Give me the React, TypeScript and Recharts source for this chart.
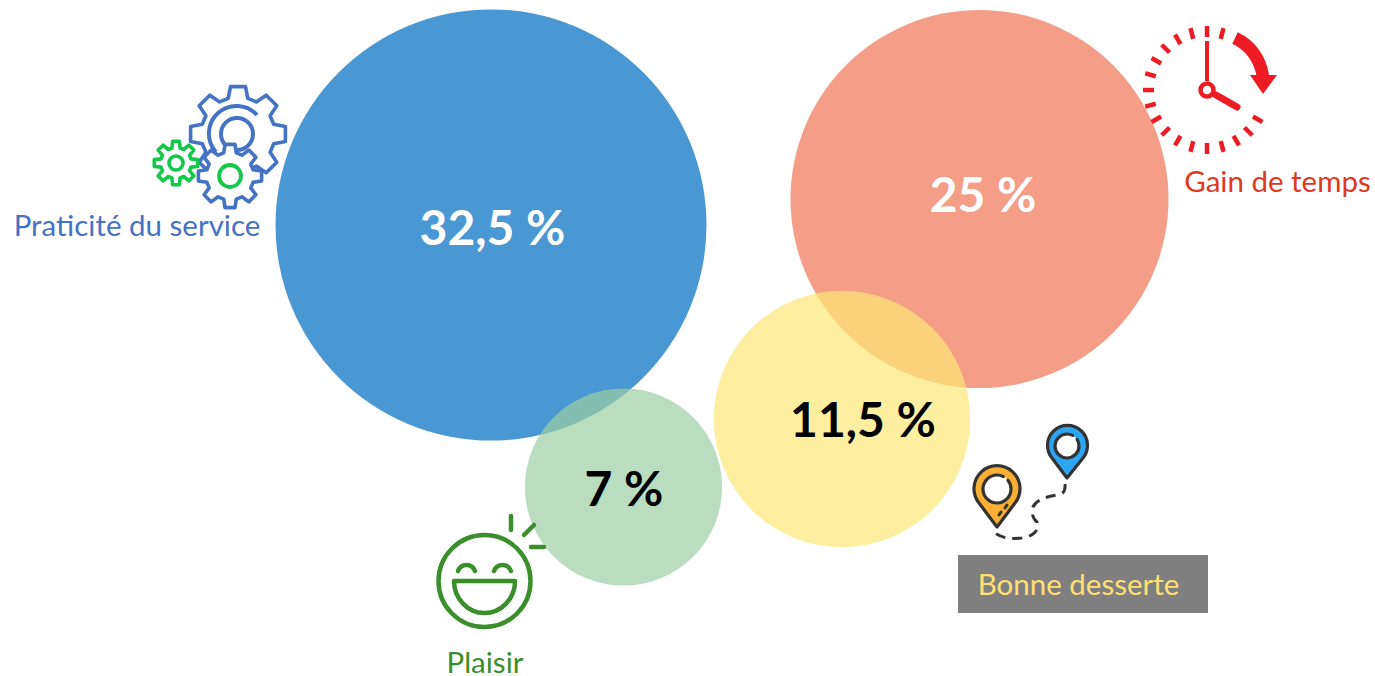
import { ScatterChart, Scatter, XAxis, YAxis, ZAxis, Cell, ReferenceArea } from "recharts";

// bubble values, drawn in this order so the overlaps come out right
const bubbleNames = ["Praticité du service", "Plaisir", "Gain de temps", "Bonne desserte"];
const bubbleShare = [32.5, 6.8, 25, 11.5];
const bubbleX = [491, 623.5, 979.5, 842];
const bubbleY = [225, 487, 199, 419];
const bubbleColors = ["#4A98D3", "#9BCEA2", "#F59E87", "#FDE777"];
const bubbleOpacity = [1, 0.7, 1, 0.7];

const percentLabels = ["32,5 %", "7 %", "25 %", "11,5 %"];
const percentX = [492.5, 624, 983, 863];
const percentY = [226.5, 487, 193, 418.5];
const percentColors = ["#FFFFFF", "#000000", "#FFFFFF", "#000000"];

const captionLabels = ["Praticité du service", "Plaisir", "Gain de temps", "Bonne desserte"];
const captionX = [137, 485, 1277.5, 1078.5];
const captionY = [224.5, 661.5, 180.5, 583.5];
const captionColors = ["#4472C4", "#3A8F2A", "#E0381E", "#FFE074"];

const bubbles = bubbleNames.map((name, i) => ({ name, x: bubbleX[i], y: bubbleY[i], z: bubbleShare[i] }));
const percents = percentLabels.map((label, i) => ({ label, x: percentX[i], y: percentY[i], color: percentColors[i] }));
const captions = captionLabels.map((label, i) => ({ label, x: captionX[i], y: captionY[i], color: captionColors[i] }));

const W = 1375;
const H = 676;
const FONT = "Lato, sans-serif";

function gearPath(cx: number, cy: number, outer: number, inner: number, teeth: number) {
  const step = (Math.PI * 2) / teeth;
  const pts: string[] = [];
  for (let i = 0; i < teeth; i++) {
    const a = i * step - Math.PI / 2;
    const offs: [number, number][] = [
      [-0.34, inner],
      [-0.2, outer],
      [0.2, outer],
      [0.34, inner],
    ];
    offs.forEach(([o, r]) => {
      const t = a + o * step;
      pts.push(`${(cx + r * Math.cos(t)).toFixed(1)},${(cy + r * Math.sin(t)).toFixed(1)}`);
    });
  }
  return `M${pts.join("L")}Z`;
}

function Gears() {
  const blue = "#4472C4";
  const green = "#12C94A";
  return (
    <g fill="none" strokeLinejoin="round" strokeWidth={3.6}>
      <path d={gearPath(238, 134, 48, 37, 8)} stroke={blue} fill="#fff" />
      <circle cx={237} cy={134} r={16} stroke={blue} strokeWidth={4} />
      <path d="M216 152 A27 27 0 0 1 257 115" stroke={blue} strokeWidth={4} />
      <path d={gearPath(230, 176, 32, 24, 8)} stroke={blue} fill="#fff" />
      <circle cx={230} cy={176} r={11} stroke={green} strokeWidth={3.8} />
      <path d={gearPath(176, 163, 22, 15.5, 8)} stroke={green} fill="#fff" />
      <circle cx={176} cy={163} r={7} stroke={green} />
    </g>
  );
}

function Clock() {
  const red = "#ED1C24";
  const angles = [0, 15, 120, 135, 150, 165, 180, 195, 210, 225, 240, 255, 270, 285, 300, 315, 330, 345];
  return (
    <g stroke={red} fill="none">
      {angles.map((deg) => {
        const t = (deg * Math.PI) / 180;
        return (
          <line
            key={deg}
            x1={1207 + 53 * Math.sin(t)}
            y1={90 - 53 * Math.cos(t)}
            x2={1207 + 64 * Math.sin(t)}
            y2={90 - 64 * Math.cos(t)}
            strokeWidth={4.5}
          />
        );
      })}
      <line x1={1207} y1={41} x2={1207} y2={81} strokeWidth={4} />
      <circle cx={1207} cy={90} r={6.5} strokeWidth={4.5} />
      <line x1={1216} y1={95} x2={1237} y2={107} strokeWidth={7} strokeLinecap="round" />
      <path d="M1235 38 Q1258 49 1263 76" strokeWidth={12.5} />
      <path d="M1250 75 L1277 75 L1263 94 Z" fill={red} stroke="none" />
    </g>
  );
}

function Pins() {
  const ink = "#333333";
  return (
    <g strokeLinejoin="round" strokeLinecap="round">
      <path d="M997 527 L979 503 A23 23 0 1 1 1015 503 Z" fill="#FBB034" stroke={ink} strokeWidth={3.2} />
      <circle cx={997} cy={489} r={14} fill="#fff" stroke={ink} strokeWidth={3.2} strokeDasharray="72 6 10 0" />
      <path d="M999 515 L1001 512 M1005 508 L1007 505" fill="none" stroke={ink} strokeWidth={3} />
      <path d="M1067 478 L1052 458 A20 20 0 1 1 1083 458 Z" fill="#2CA6F2" stroke={ink} strokeWidth={3.2} />
      <circle cx={1067} cy={446} r={12} fill="#fff" stroke={ink} strokeWidth={3.2} strokeDasharray="62 6 8 0" />
      <path
        d="M1065 484 Q1066 494 1058 495 Q1034 498 1032 510 Q1032 518 1037 522 Q1040 535 1022 538 Q1005 540 995 533"
        fill="none"
        stroke={ink}
        strokeWidth={3}
        strokeLinecap="butt"
        strokeDasharray="10 7"
      />
    </g>
  );
}

function Smiley() {
  const green = "#3A8F2A";
  return (
    <g fill="none" stroke={green} strokeWidth={4.5} strokeLinecap="round">
      <circle cx={484.5} cy={581} r={46} />
      <path d="M454 581 L515 581 A30.5 32 0 0 1 454 581 Z" strokeLinejoin="round" />
      <path d="M458 571 A9 9 0 0 1 475 571" />
      <path d="M494 571 A9 9 0 0 1 511 571" />
      <path d="M511 516 L511 530" />
      <path d="M524 535 L534 525" />
      <path d="M531 547 L544 547" />
    </g>
  );
}

function PercentText(props: any) {
  const { cx, cy, payload } = props;
  return (
    <text
      x={cx}
      y={cy}
      textAnchor="middle"
      dominantBaseline="central"
      fontFamily={FONT}
      fontWeight={700}
      fontSize={48}
      fill={payload.color}
    >
      {payload.label}
    </text>
  );
}

function CaptionText(props: any) {
  const { cx, cy, payload } = props;
  return (
    <text
      x={cx}
      y={cy}
      textAnchor="middle"
      dominantBaseline="central"
      fontFamily={FONT}
      fontSize={29.5}
      fill={payload.color}
    >
      {payload.label}
    </text>
  );
}

export default function App() {
  return (
    <div style={{ position: "absolute", left: 0, top: 0, width: W, height: H, overflow: "hidden" }}>
      <ScatterChart width={W} height={H} margin={{ top: 0, right: 0, bottom: 0, left: 0 }}>
        <XAxis type="number" dataKey="x" domain={[0, W]} hide />
        <YAxis type="number" dataKey="y" domain={[0, H]} reversed hide />
        <ZAxis type="number" dataKey="z" domain={[0, 32.5]} range={[0, 145900]} />
        <ReferenceArea x1={958} x2={1208} y1={555} y2={613} fill="#7F7F7F" fillOpacity={1} stroke="none" />
        <Scatter data={bubbles} isAnimationActive={false}>
          {bubbles.map((b, i) => (
            <Cell key={b.name} fill={bubbleColors[i]} fillOpacity={bubbleOpacity[i]} />
          ))}
        </Scatter>
        <Scatter data={percents} isAnimationActive={false} shape={PercentText} />
        <Scatter data={captions} isAnimationActive={false} shape={CaptionText} />
      </ScatterChart>
      <svg width={W} height={H} style={{ position: "absolute", left: 0, top: 0, pointerEvents: "none" }}>
        <Gears />
        <Clock />
        <Pins />
        <Smiley />
      </svg>
    </div>
  );
}
